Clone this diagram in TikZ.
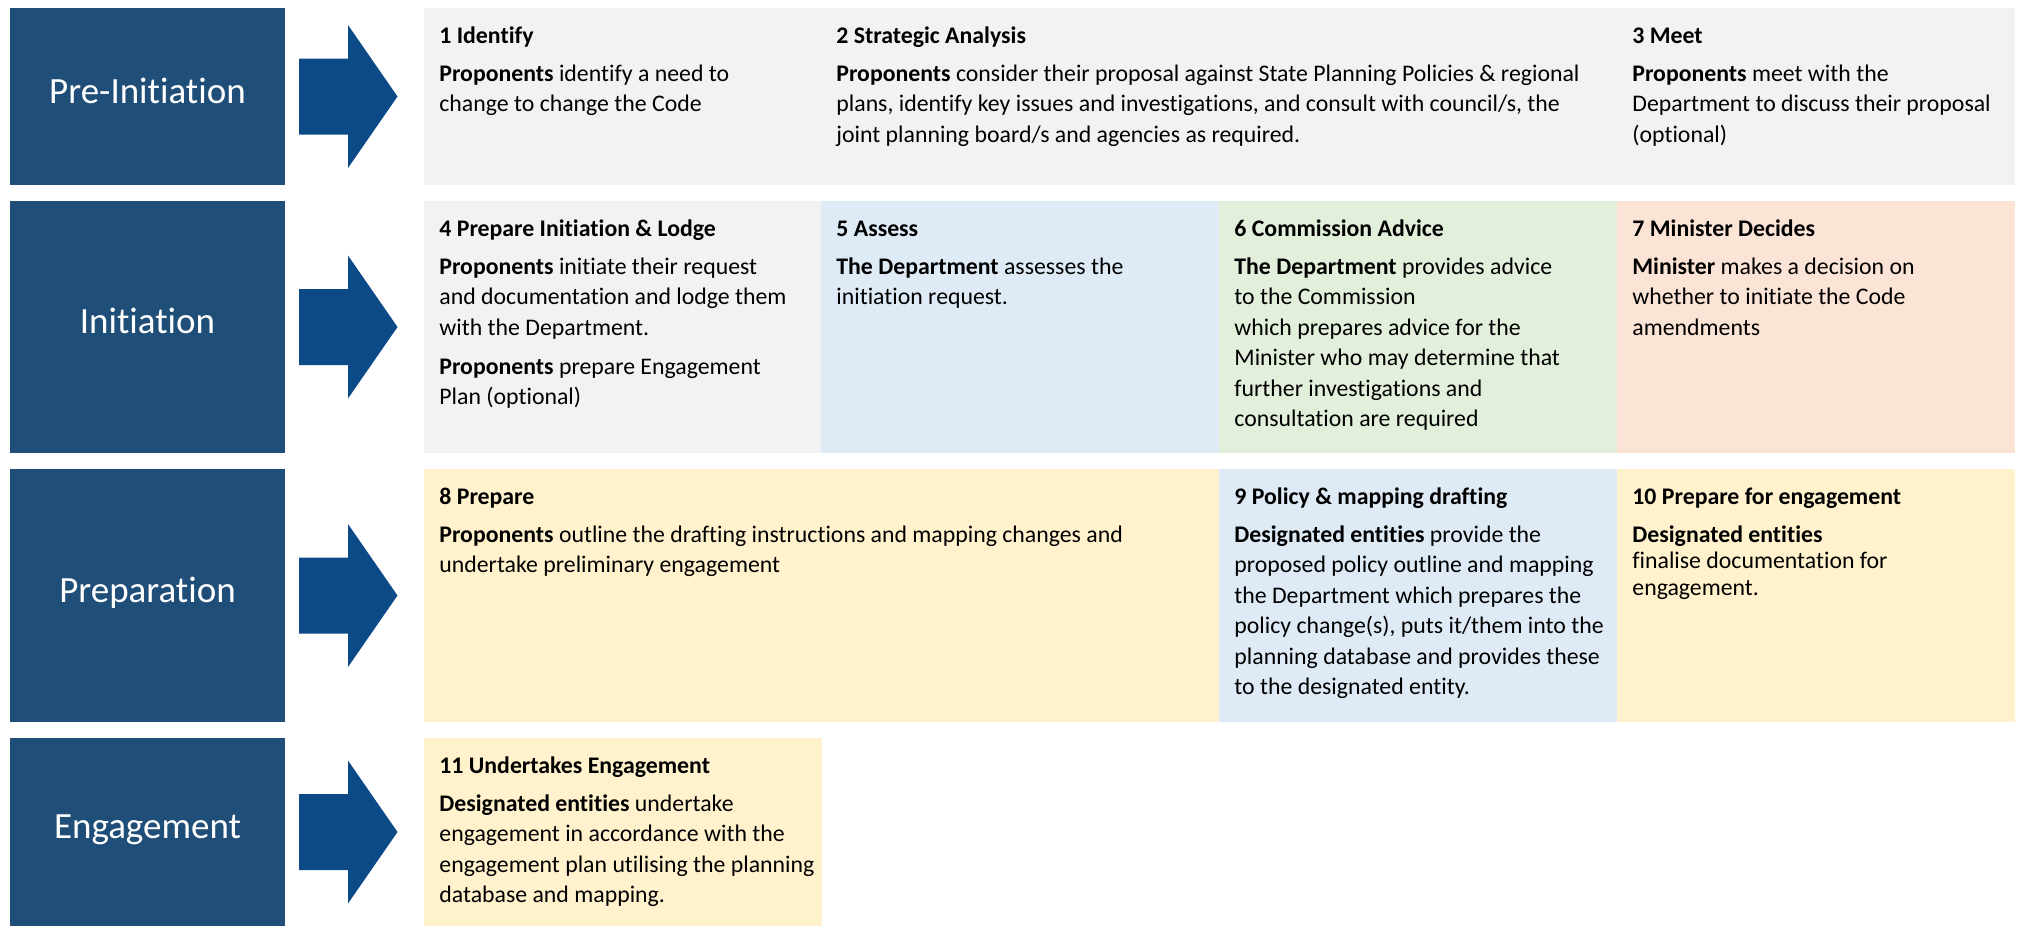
\documentclass[tikz,border=0pt]{standalone}
\usepackage{fontspec}
\setmainfont{Carlito}[Ligatures=NoCommon]
\usepackage{xcolor}
\definecolor{phaseblue}{RGB}{31,78,121}
\definecolor{arrowblue}{RGB}{12,74,135}
\definecolor{cellgray}{RGB}{242,242,242}
\definecolor{cellblue}{RGB}{222,234,246}
\definecolor{cellgreen}{RGB}{226,239,218}
\definecolor{cellrose}{RGB}{251,228,214}
\definecolor{cellyellow}{RGB}{255,242,204}

\begin{document}
\begin{tikzpicture}[x=0.5pt, y=-0.5pt,
  phase/.style={fill=phaseblue, text=white, inner sep=0pt, minimum width=137.5pt,
    text height=12pt, text depth=5.5pt, font=\fontsize{18.5}{22}\selectfont},
  txt/.style={anchor=north west, align=left, inner sep=0pt, font=\fontsize{11.9}{15.25}\selectfont}]
\useasboundingbox (0,0) rectangle (2019,926);

% phase blocks on the left
\node[phase, minimum height=88.5pt] (preinit) at (147.5,96.5) {Pre-Initiation};
\node[phase, minimum height=126pt] (init) at (147.5,327) {Initiation};
\node[phase, minimum height=126.5pt] (prep) at (147.5,595.5) {Preparation};
\node[phase, minimum height=94pt] (engage) at (147.5,832) {Engagement};

% block arrows
\foreach \cy in {96.5,327,595.5,832}
  \fill[arrowblue] (299,\cy-38) -- (348,\cy-38) -- (348,\cy-71.5) -- (397.5,\cy)
    -- (348,\cy+71.5) -- (348,\cy+38) -- (299,\cy+38) -- cycle;

% coloured cells
\foreach \xa/\ya/\xb/\yb/\c in {
424/8/2015/185/cellgray,
424/201/821/453/cellgray, 821/201/1219/453/cellblue,
1219/201/1617/453/cellgreen, 1617/201/2015/453/cellrose,
424/469/1219/722/cellyellow, 1219/469/1617/722/cellblue,
1617/469/2015/722/cellyellow,
424/738/822/926/cellyellow}
  \fill[\c] (\xa,\ya) rectangle (\xb,\yb);

% row 1
\node[txt] (identify) at (439,21.65) {\strut\textbf{1 Identify}\\[3.75pt]
  \textbf{Proponents} identify a need to\\
  change to change the Code};
\node[txt] (analysis) at (836,21.65) {\strut\textbf{2 Strategic Analysis}\\[3.75pt]
  \textbf{Proponents} consider their proposal against State Planning Policies \& regional\\
  plans, identify key issues and investigations, and consult with council/s, the\\
  joint planning board/s and agencies as required.};
\node[txt] (meet) at (1632,21.65) {\strut\textbf{3 Meet}\\[3.75pt]
  \textbf{Proponents} meet with the\\
  Department to discuss their proposal\\
  (optional)};

% row 2
\node[txt] (lodge) at (439,214.65) {\strut\textbf{4 Prepare Initiation \& Lodge}\\[3.75pt]
  \textbf{Proponents} initiate their request\\
  and documentation and lodge them\\
  with the Department.\\[4.25pt]
  \textbf{Proponents} prepare Engagement\\
  Plan (optional)};
\node[txt] (assess) at (836,214.65) {\strut\textbf{5 Assess}\\[3.75pt]
  \textbf{The Department} assesses the\\
  initiation request.};
\node[txt] (advice) at (1234,214.65) {\strut\textbf{6 Commission Advice}\\[3.75pt]
  \textbf{The Department} provides advice\\
  to the Commission\\
  which prepares advice for the\\
  Minister who may determine that\\
  further investigations and\\
  consultation are required};
\node[txt] (decides) at (1632,214.65) {\strut\textbf{7 Minister Decides}\\[3.75pt]
  \textbf{Minister} makes a decision on\\
  whether to initiate the Code\\
  amendments};

% row 3
\node[txt] (prepare) at (439,482.65) {\strut\textbf{8 Prepare}\\[3.75pt]
  \textbf{Proponents} outline the drafting instructions and mapping changes and\\
  undertake preliminary engagement};
\node[txt] (drafting) at (1234,482.65) {\strut\textbf{9 Policy \& mapping drafting}\\[3.75pt]
  \textbf{Designated entities} provide the\\
  proposed policy outline and mapping\\
  the Department which prepares the\\
  policy change(s), puts it/them into the\\
  planning database and provides these\\
  to the designated entity.};
\node[txt] (readying) at (1632,482.65) {\strut\textbf{10 Prepare for engagement}\\[3.75pt]
  \textbf{Designated entities}\\[-2pt]
  finalise documentation for\\[-2pt]
  engagement.};

% row 4
\node[txt] (undertake) at (439,751.65) {\strut\textbf{11 Undertakes Engagement}\\[3.75pt]
  \textbf{Designated entities} undertake\\
  engagement in accordance with the\\
  engagement plan utilising the planning\\
  database and mapping.};
\end{tikzpicture}
\end{document}
